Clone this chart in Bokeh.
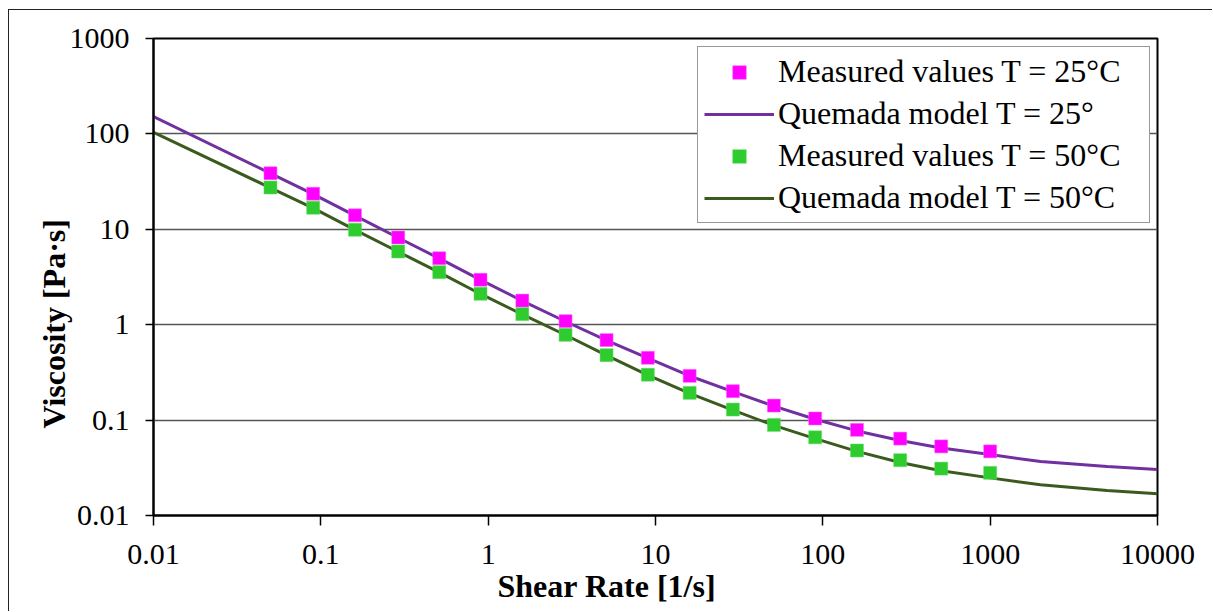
from bokeh.plotting import figure
from bokeh.models import (FixedTicker, CustomJSTickFormatter, Legend, LegendItem, Title)
from bokeh.embed import file_html
from bokeh.resources import INLINE

# ---- data ----
shear_measured = [0.05, 0.09, 0.16, 0.29, 0.51, 0.9, 1.6, 2.9, 5.1, 9, 16, 29, 51, 90, 160, 290, 510, 1000]
visc_meas_25 = [38.7, 23.6, 14.0, 8.2, 4.98, 2.96, 1.79, 1.09, 0.69, 0.45, 0.291, 0.201, 0.142, 0.104, 0.079, 0.064, 0.053, 0.047]
visc_meas_50 = [27.4, 16.8, 9.9, 5.85, 3.55, 2.11, 1.29, 0.783, 0.479, 0.299, 0.193, 0.129, 0.089, 0.066, 0.048, 0.038, 0.031, 0.028]

shear_model = [0.01, 0.05, 0.09, 0.16, 0.29, 0.51, 0.9, 1.6, 2.9, 5.1, 9, 16, 29, 51, 90, 160, 290, 510, 1000, 2000, 5000, 10000]
visc_model_25 = [152, 38.5, 23.4, 13.9, 8.15, 4.95, 2.95, 1.78, 1.08, 0.685, 0.447, 0.29, 0.199, 0.14, 0.102, 0.077, 0.061, 0.051, 0.0435, 0.0368, 0.0326, 0.0303]
visc_model_50 = [104, 27.2, 16.7, 9.85, 5.82, 3.53, 2.1, 1.28, 0.78, 0.476, 0.296, 0.191, 0.127, 0.088, 0.064, 0.047, 0.036, 0.0295, 0.0248, 0.021, 0.0183, 0.0169]

x_ticks = [0.01, 0.1, 1, 10, 100, 1000, 10000]
y_ticks = [0.01, 0.1, 1, 10, 100, 1000]

labels = ["Measured values T = 25\u00b0C", "Quemada model T = 25\u00b0",
          "Measured values T = 50\u00b0C", "Quemada model T = 50\u00b0C"]
x_title = "Shear Rate [1/s]"
y_title = "Viscosity [Pa\u00b7s]"

FONT = "Liberation Serif"

p = figure(width=1204, height=602, x_axis_type="log", y_axis_type="log",
           x_range=(0.01, 10000), y_range=(0.01, 1000),
           output_backend="svg", toolbar_location=None,
           min_border_left=144, min_border_right=56,
           min_border_top=28, min_border_bottom=97,
           styles={"margin-left": "8px", "margin-top": "9px",
                   "border-left": "1px solid #222222",
                   "border-top": "1px solid #222222"})

p.background_fill_color = "white"
p.border_fill_color = "white"
p.outline_line_color = "black"
p.outline_line_width = 2

# grid
p.xgrid.visible = False
p.ygrid.grid_line_color = "#555555"
p.ygrid.grid_line_width = 1.5
p.ygrid.ticker = FixedTicker(ticks=y_ticks, minor_ticks=[])

fmt = CustomJSTickFormatter(code="return tick.toString();")

xa = p.xaxis[0]
xa.ticker = FixedTicker(ticks=x_ticks, minor_ticks=[])
xa.formatter = fmt
xa.major_tick_out = 10
xa.major_tick_in = 0
xa.minor_tick_out = 0
xa.minor_tick_in = 0
xa.major_label_standoff = 19

ya = p.yaxis[0]
ya.ticker = FixedTicker(ticks=y_ticks, minor_ticks=[])
ya.formatter = fmt
ya.major_tick_out = 8
ya.major_tick_in = 0
ya.minor_tick_out = 0
ya.minor_tick_in = 0
ya.major_label_standoff = 16

for ax in (xa, ya):
    ax.axis_line_color = "black"
    ax.axis_line_width = 2
    ax.major_tick_line_color = "black"
    ax.major_tick_line_width = 1.5
    ax.major_label_text_font = FONT
    ax.major_label_text_font_size = "30px"
    ax.major_label_text_color = "black"

# model curves
r_m25 = p.line(shear_model, visc_model_25, line_color="#7030A0", line_width=3)
r_m50 = p.line(shear_model, visc_model_50, line_color="#3A5A1E", line_width=3)
# measured values
r_s25 = p.scatter(shear_measured, visc_meas_25, marker="square", size=13,
                  fill_color="#FF00FF", line_color="#FF66FF", line_width=0.5)
r_s50 = p.scatter(shear_measured, visc_meas_50, marker="square", size=13,
                  fill_color="#2ECC2E", line_color="#66DD66", line_width=0.5)

legend = Legend(items=[
    LegendItem(label=labels[0], renderers=[r_s25]),
    LegendItem(label=labels[1], renderers=[r_m25]),
    LegendItem(label=labels[2], renderers=[r_s50]),
    LegendItem(label=labels[3], renderers=[r_m50]),
], location=(544, 292))
legend.label_text_font = FONT
legend.label_text_font_size = "32px"
legend.label_text_color = "black"
legend.glyph_width = 70
legend.glyph_height = 34
legend.label_height = 34
legend.label_width = 365
legend.label_standoff = 4
legend.spacing = 5
legend.padding = 6
legend.margin = 0
legend.border_line_color = "#333333"
legend.border_line_width = 1.5
legend.background_fill_color = "white"
legend.background_fill_alpha = 1
p.add_layout(legend, "center")

# axis titles
p.add_layout(Title(text=x_title, align="left", offset=344, standoff=-1,
                   text_font=FONT, text_font_size="32px", text_font_style="bold",
                   text_color="black"), "below")
p.add_layout(Title(text=y_title, align="left", offset=87, standoff=-11,
                   text_font=FONT, text_font_size="32px", text_font_style="bold",
                   text_color="black"), "left")

open("out.html", "w").write(file_html(p, INLINE))
